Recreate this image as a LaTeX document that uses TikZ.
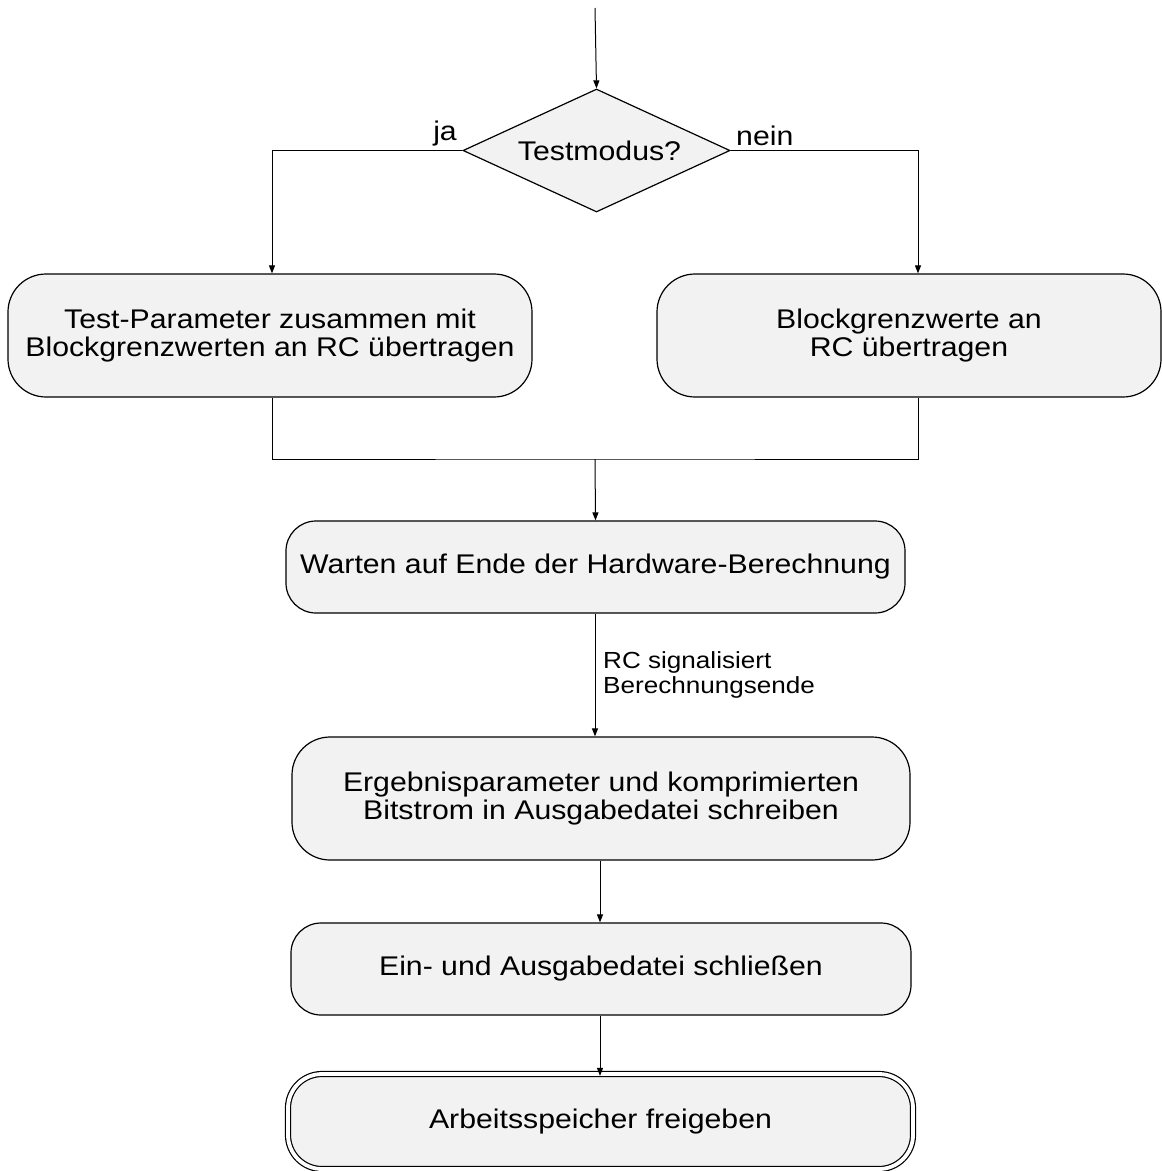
\documentclass[tikz,border=0pt]{standalone}
\usepackage{fontspec}
\setmainfont[FakeStretch=1.12]{Liberation Sans}
\usetikzlibrary{shapes.geometric,arrows.meta,calc}
\definecolor{boxgray}{HTML}{F2F2F2}
\begin{document}
\begin{tikzpicture}[x=1bp,y=-1bp,
  every node/.style={font=\fontsize{27bp}{28bp}\selectfont},
  box/.style={draw, line width=1.2bp, fill=boxgray, rectangle,
    rounded corners=#1, align=center, inner sep=0pt},
  box/.default=30bp,
  decision/.style={draw, line width=1.2bp, fill=boxgray, diamond,
    inner sep=0pt, aspect=2.17},
  flow/.style={line width=1bp, -{Triangle[length=8bp,width=6bp]}},
  link/.style={line width=1bp},
  small/.style={font=\fontsize{23.3bp}{25bp}\selectfont, align=left, inner sep=0pt}
]
\useasboundingbox (0,0) rectangle (1162,1171);

% decision
\coordinate (start) at (595,8);
\node[decision, minimum width=267bp, minimum height=123bp] (dec) at (596.5,150.5)
  {\hspace*{6bp}Testmodus?};
\draw[flow] (start) -- (dec.north);

% the two branches
\node[box=38bp, minimum width=524bp, minimum height=123bp] (lbox) at (270,335.5)
  {Test-Parameter zusammen mit\\Blockgrenzwerten an RC übertragen};
\node[box=38bp, minimum width=504bp, minimum height=123bp] (rbox) at (909,335.5)
  {Blockgrenzwerte an\\RC übertragen};

\draw[flow] (dec.west) -| ([xshift=2bp]lbox.north);
\draw[flow] (dec.east) -| ([xshift=9bp]rbox.north);
\node[anchor=south east, inner sep=0pt] (ja) at (457,146) {ja};
\node[anchor=south west, inner sep=0pt] (nein) at (736,146) {nein};

% merge of both branches
\coordinate (join) at (595,459);
\draw[link] ([xshift=2bp]lbox.south) |- (join) -| ([xshift=9bp]rbox.south);

\node[box=30bp, minimum width=619bp, minimum height=92bp] (wait) at (595.5,567)
  {Warten auf Ende der Hardware-Berechnung};
\draw[flow] (join) -- (wait.north);

\node[box=38bp, minimum width=618bp, minimum height=123bp] (erg) at (601,798.5)
  {Ergebnisparameter und komprimierten\\Bitstrom in Ausgabedatei schreiben};
\draw[flow] ([xshift=-0.5bp]wait.south) -- ([xshift=-0.5bp]wait.south |- erg.north);
\node[small, anchor=north west] (sig) at (603,651) {RC signalisiert\\Berechnungsende};

\node[box=30bp, minimum width=620bp, minimum height=92bp] (ein) at (601,969)
  {Ein- und Ausgabedatei schließen};
\draw[flow] ([xshift=-1bp]erg.south) -- ([xshift=-1bp]ein.north);

\node[box=34bp, minimum width=625bp, minimum height=95bp, double=white,
  double distance=3.8bp] (free) at (600.5,1121.5) {Arbeitsspeicher freigeben};
\draw[flow] ([xshift=-1bp]ein.south) -- ([xshift=-0.5bp,yshift=-2.5bp]free.north);
\end{tikzpicture}
\end{document}
